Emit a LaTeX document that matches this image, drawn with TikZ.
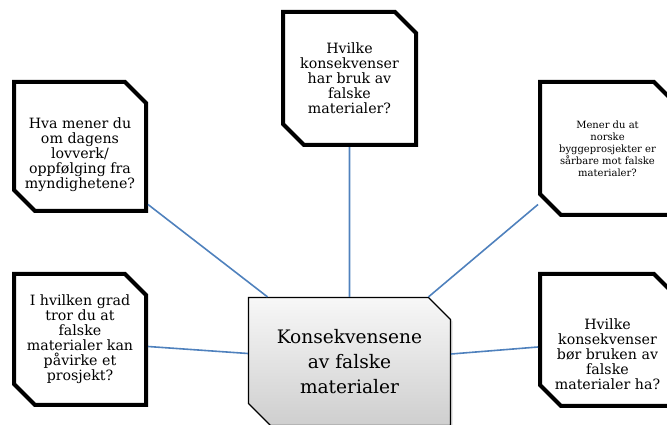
\documentclass[tikz,border=0pt]{standalone}
\usepackage{fontspec}
\setmainfont{DejaVu Serif}
\usetikzlibrary{shapes.misc, shadows}
\definecolor{linkBlue}{RGB}{79,129,189}

\begin{document}
\begin{tikzpicture}[x = 1pt, y = 1pt,
		qbox/.style = {chamfered rectangle, chamfered rectangle corners = {north east, south west},
			chamfered rectangle sep = 10.5pt, draw, line width = 4pt, fill = white,
			align = center, inner sep = 0pt, font = \fontsize{14.2}{15}\selectfont},
		hubbox/.style = {chamfered rectangle, chamfered rectangle corners = {north east, south west},
			chamfered rectangle sep = 11pt, draw, line width = 1.2pt,
			top color = gray!6, bottom color = gray!38,
			drop shadow = {shadow xshift = 2pt, shadow yshift = -2pt, opacity = 0.25},
			align = center, inner sep = 0pt, font = \fontsize{18.6}{25}\selectfont},
		link/.style = {linkBlue, line width = 1.6pt}]
		\useasboundingbox (0, 0) rectangle (667, 425);
		\clip (0, 0) rectangle (667, 425);
		%%%%%%%%%%%%%
		\node (hub) [hubbox, minimum width = 202, minimum height = 128] at (349.5, 63.5)
			{Konsekvensene\\av falske\\materialer};
		\node (qtop) [qbox, minimum width = 133, minimum height = 133] at (349.5, 346.5)
			{Hvilke\\konsekvenser\\har bruk av\\falske\\materialer?};
		\node (qlov) [qbox, minimum width = 132, minimum height = 129] at (80, 278.5)
			{\rule{0pt}{27pt}Hva mener du\\om dagens\\lovverk/\\oppfølging fra\\myndighetene?};
		\node (qsarb) [qbox, minimum width = 135, minimum height = 133, font = \fontsize{10}{12}\selectfont] at (607.5, 276.5)
			{Mener du at\\norske\\byggeprosjekter er\\sårbare mot falske\\materialer?};
		\node (qgrad) [qbox, minimum width = 132, minimum height = 131] at (80, 85.5)
			{I hvilken grad\\tror du at\\falske\\materialer kan\\påvirke et\\prosjekt?};
		\node (qkons) [qbox, minimum width = 135, minimum height = 132] at (607.5, 85)
			{\rule{0pt}{40pt}Hvilke\\konsekvenser\\bør bruken av\\falske\\materialer ha?};
		%%%%%%%%%%%%%
		\draw [link] (qtop) to (hub);
		\draw [link] ([yshift = -58pt] qlov.east) to ([xshift = -82pt] hub.north);
		\draw [link] ([yshift = -56pt] qsarb.west) to ([xshift = 79pt] hub.north);
		\draw [link] ([yshift = -7pt] qgrad.east) to ([yshift = 8pt] hub.west);
		\draw [link] ([yshift = 7.5pt] hub.east) to ([yshift = -7pt] qkons.west);
\end{tikzpicture}
\end{document}
